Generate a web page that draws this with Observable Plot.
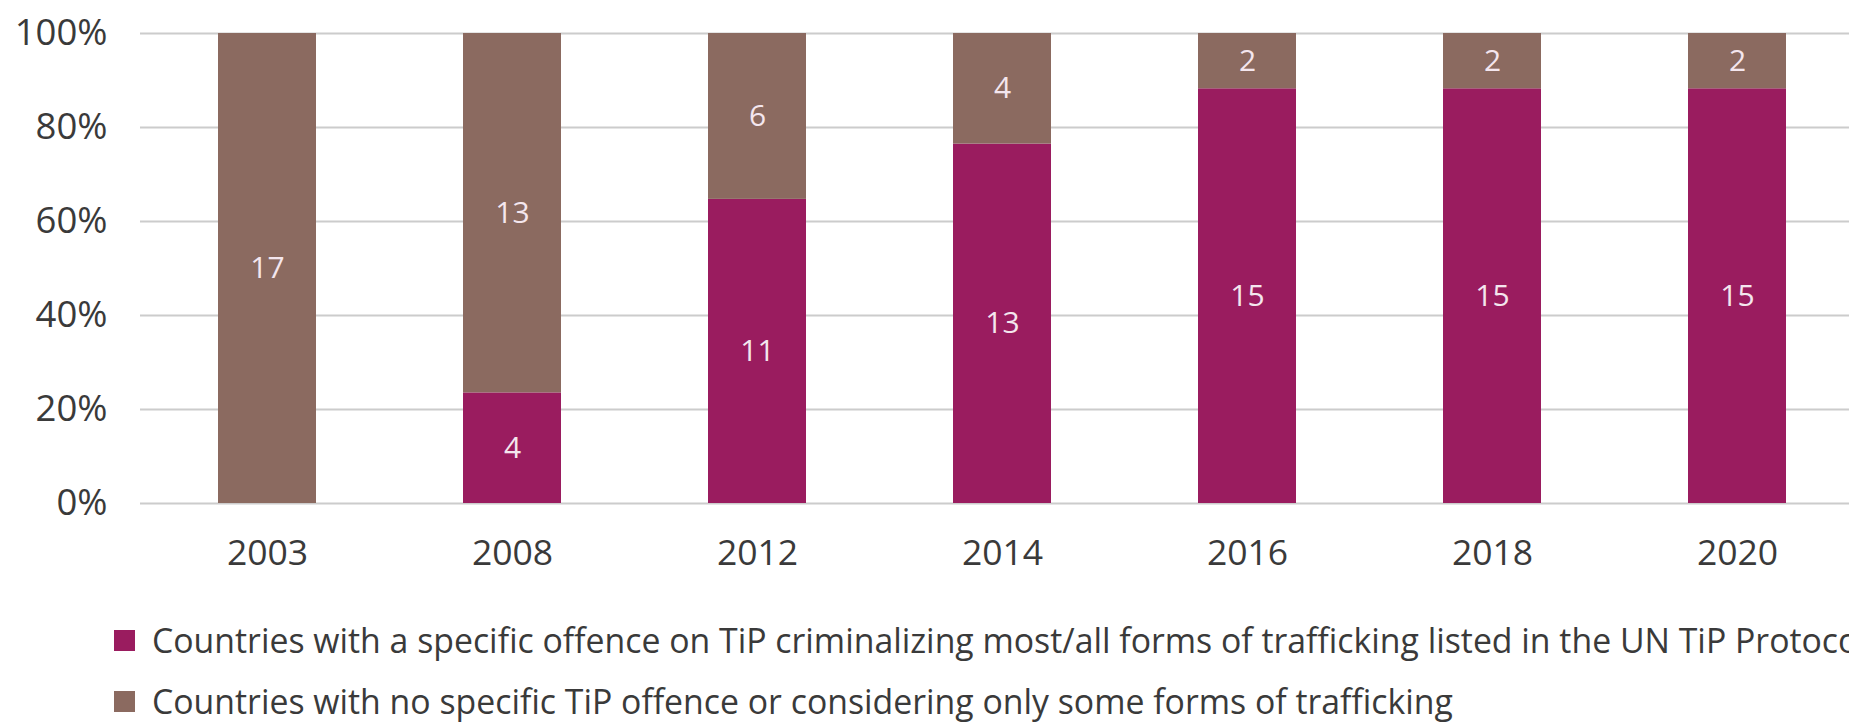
<!DOCTYPE html>
<html>
<head>
<meta charset="utf-8">
<script src="https://cdn.jsdelivr.net/npm/d3@7"></script>
<script src="https://cdn.jsdelivr.net/npm/@observablehq/plot@0.6"></script>
<style>
  html, body { margin: 0; padding: 0; background: #fff; }
  body { width: 1849px; height: 722px; overflow: hidden; position: relative; font-family: "Open Sans", sans-serif; }
  #legend { position: absolute; left: 114px; top: 610px; color: #3a3a3a; font-size: 33.8px; white-space: nowrap; }
  .row { height: 61px; line-height: 61px; display: flex; align-items: center; }
  .sw { width: 21px; height: 21px; margin-right: 17px; flex: none; }
</style>
</head>
<body>
<div id="chart"></div>
<div id="legend"></div>
<script>
const years = ["2003", "2008", "2012", "2014", "2016", "2018", "2020"];
const specificCounts = [0, 4, 11, 13, 15, 15, 15];
const noSpecificCounts = [17, 13, 6, 4, 2, 2, 2];
const seriesNames = [
  "Countries with a specific offence on TiP criminalizing most/all forms of trafficking listed in the UN TiP Protocol",
  "Countries with no specific TiP offence or considering only some forms of trafficking"
];
const seriesColors = ["#9a1c5f", "#8b6a60"];
const yTicks = [0, 0.2, 0.4, 0.6, 0.8, 1];

const data = [];
years.forEach((y, i) => {
  data.push({year: y, series: seriesNames[0], count: specificCounts[i]});
  data.push({year: y, series: seriesNames[1], count: noSpecificCounts[i]});
});

const chart = Plot.plot({
  width: 1849,
  height: 590,
  marginTop: 33,
  marginBottom: 87,
  marginLeft: 140,
  marginRight: 0,
  style: {fontFamily: "Open Sans, sans-serif", fontSize: "35px", color: "#3a3a3a", background: "#fff", overflow: "visible"},
  x: {type: "band", domain: years, range: [140, 1863], paddingInner: 0.6, paddingOuter: 0.31, label: null},
  y: {domain: [0, 1], label: null},
  color: {domain: seriesNames, range: seriesColors},
  marks: [
    Plot.ruleY(yTicks, {stroke: "#cccccc", strokeWidth: 2}),
    Plot.barY(data, Plot.stackY({x: "year", y: "count", fill: "series", offset: "normalize", order: seriesNames})),
    Plot.text(data, Plot.stackY({
      x: "year", y: "count", z: "series", offset: "normalize", order: seriesNames,
      text: d => d.count > 0 ? String(d.count) : "",
      fill: "#f4e6ee", fontSize: 30
    })),
    Plot.axisY({ticks: yTicks, tickFormat: d => Math.round(d * 100) + "%", tickSize: 0, tickPadding: 33, fontSize: 36.5, label: null}),
    Plot.axisX({tickSize: 0, tickPadding: 36, fontSize: 35.5, label: null})
  ]
});
document.getElementById("chart").appendChild(chart);

const legend = document.getElementById("legend");
seriesNames.forEach((name, i) => {
  const row = document.createElement("div");
  row.className = "row";
  const sw = document.createElement("span");
  sw.className = "sw";
  sw.style.background = seriesColors[i];
  const tx = document.createElement("span");
  tx.textContent = name;
  row.appendChild(sw);
  row.appendChild(tx);
  legend.appendChild(row);
});
</script>
</body>
</html>
